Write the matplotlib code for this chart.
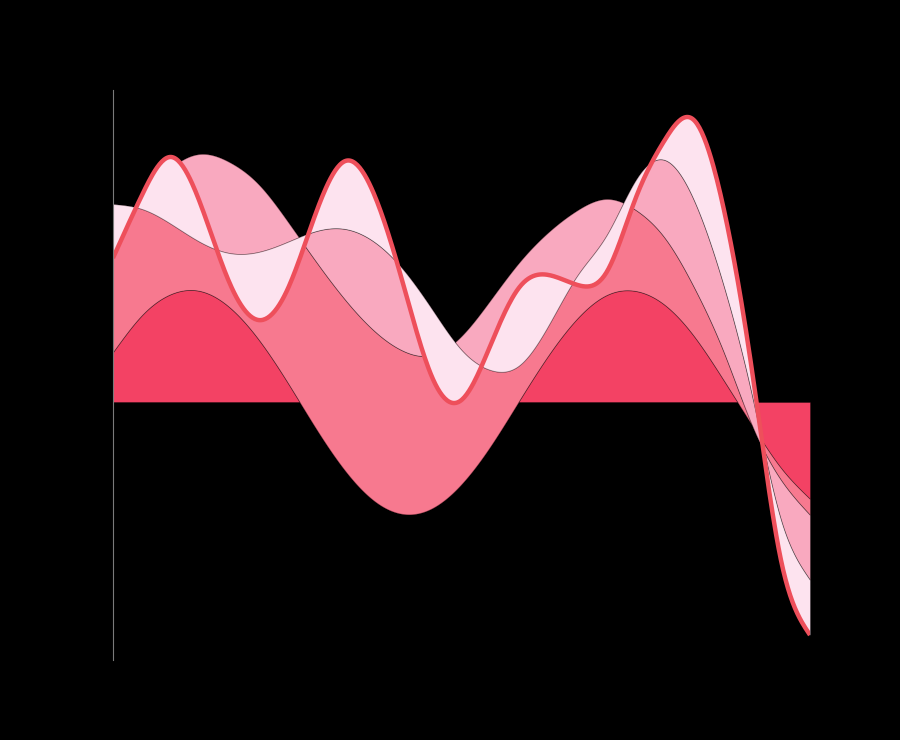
import numpy as np
import matplotlib
matplotlib.use("Agg")
import matplotlib.pyplot as plt

# 25 evenly spaced samples across the x range
steps = list(range(25))

series_a = [5.0, 8.7, 10.8, 11.1, 9.5, 6.3, 2.0, -2.7, -6.9, -9.9, -11.2, -10.6, -8.2,
            -4.4, 0.2, 4.7, 8.4, 10.7, 11.1, 9.7, 6.6, 2.3, -2.3, -6.6, -9.7]
series_b = [11.7, 11.6, 12.6, 13.7, 14.5, 15.5, 16.1, 16.7, 17.1, 17.0, 16.3, 15.3, 14.8,
            14.6, 13.8, 12.3, 10.8, 9.6, 8.1, 6.7, 4.9, 2.9, 0.0, -1.2, -1.6]
series_c = [3.1, -1.0, -5.6, -8.8, -9.1, -6.8, -2.1, 3.1, 7.1, 8.9, 8.1, 4.5, -1.4,
            -7.0, -10.3, -9.3, -6.5, -3.6, 3.0, 7.8, 8.7, 6.7, 3.0, -4.0, -6.5]
series_d = [-5.4, 1.4, 6.7, 3.9, -2.9, -6.8, -4.8, 1.9, 6.8, 4.7, -1.5, -6.8, -5.0,
            2.5, 7.8, 5.0, -1.0, -3.7, -1.8, 2.0, 8.0, 7.8, 2.5, -4.0, -5.5]

colors = ["#f34264", "#f7798f", "#f9a9bf", "#fde3ef"]
line_color = "#ee4f5b"


def smooth(x, y, n=600):
    # natural cubic spline through the points, only for drawing
    x = np.asarray(x, float)
    y = np.asarray(y, float)
    k = len(x)
    h = np.diff(x)
    A = np.zeros((k, k))
    r = np.zeros(k)
    A[0, 0] = A[-1, -1] = 1
    for i in range(1, k - 1):
        A[i, i - 1] = h[i - 1]
        A[i, i] = 2 * (h[i - 1] + h[i])
        A[i, i + 1] = h[i]
        r[i] = 6 * ((y[i + 1] - y[i]) / h[i] - (y[i] - y[i - 1]) / h[i - 1])
    m = np.linalg.solve(A, r)
    xs = np.linspace(x[0], x[-1], n)
    idx = np.clip(np.searchsorted(x, xs) - 1, 0, k - 2)
    x0, x1 = x[idx], x[idx + 1]
    hh = x1 - x0
    t0, t1 = x1 - xs, xs - x0
    ys = (m[idx] * t0 ** 3 + m[idx + 1] * t1 ** 3) / (6 * hh) \
        + (y[idx] / hh - m[idx] * hh / 6) * t0 \
        + (y[idx + 1] / hh - m[idx + 1] * hh / 6) * t1
    return xs, ys


xs, a = smooth(steps, series_a)
_, b = smooth(steps, series_b)
_, c = smooth(steps, series_c)
_, d = smooth(steps, series_d)

fig = plt.figure(figsize=(9, 7.4), dpi=100, facecolor="black")
ax = fig.add_axes([113 / 900, 80 / 740, 697 / 900, 570 / 740])
ax.set_facecolor("black")

ax.stackplot(xs, a, b, c, d, colors=colors,
             edgecolor=(0, 0, 0, 0.35), linewidth=0.6)
ax.plot(xs, a + b + c + d, color=line_color, linewidth=3.2,
        solid_capstyle="butt")

ax.set_xlim(0, 24)
ax.set_ylim(-25.8, 31.2)
for side in ["top", "right", "bottom"]:
    ax.spines[side].set_visible(False)
ax.spines["left"].set_color("#7a7a7a")
ax.spines["left"].set_linewidth(0.8)
ax.set_xticks([])
ax.set_yticks([])

fig.savefig("out.png", dpi=100, facecolor="black")
